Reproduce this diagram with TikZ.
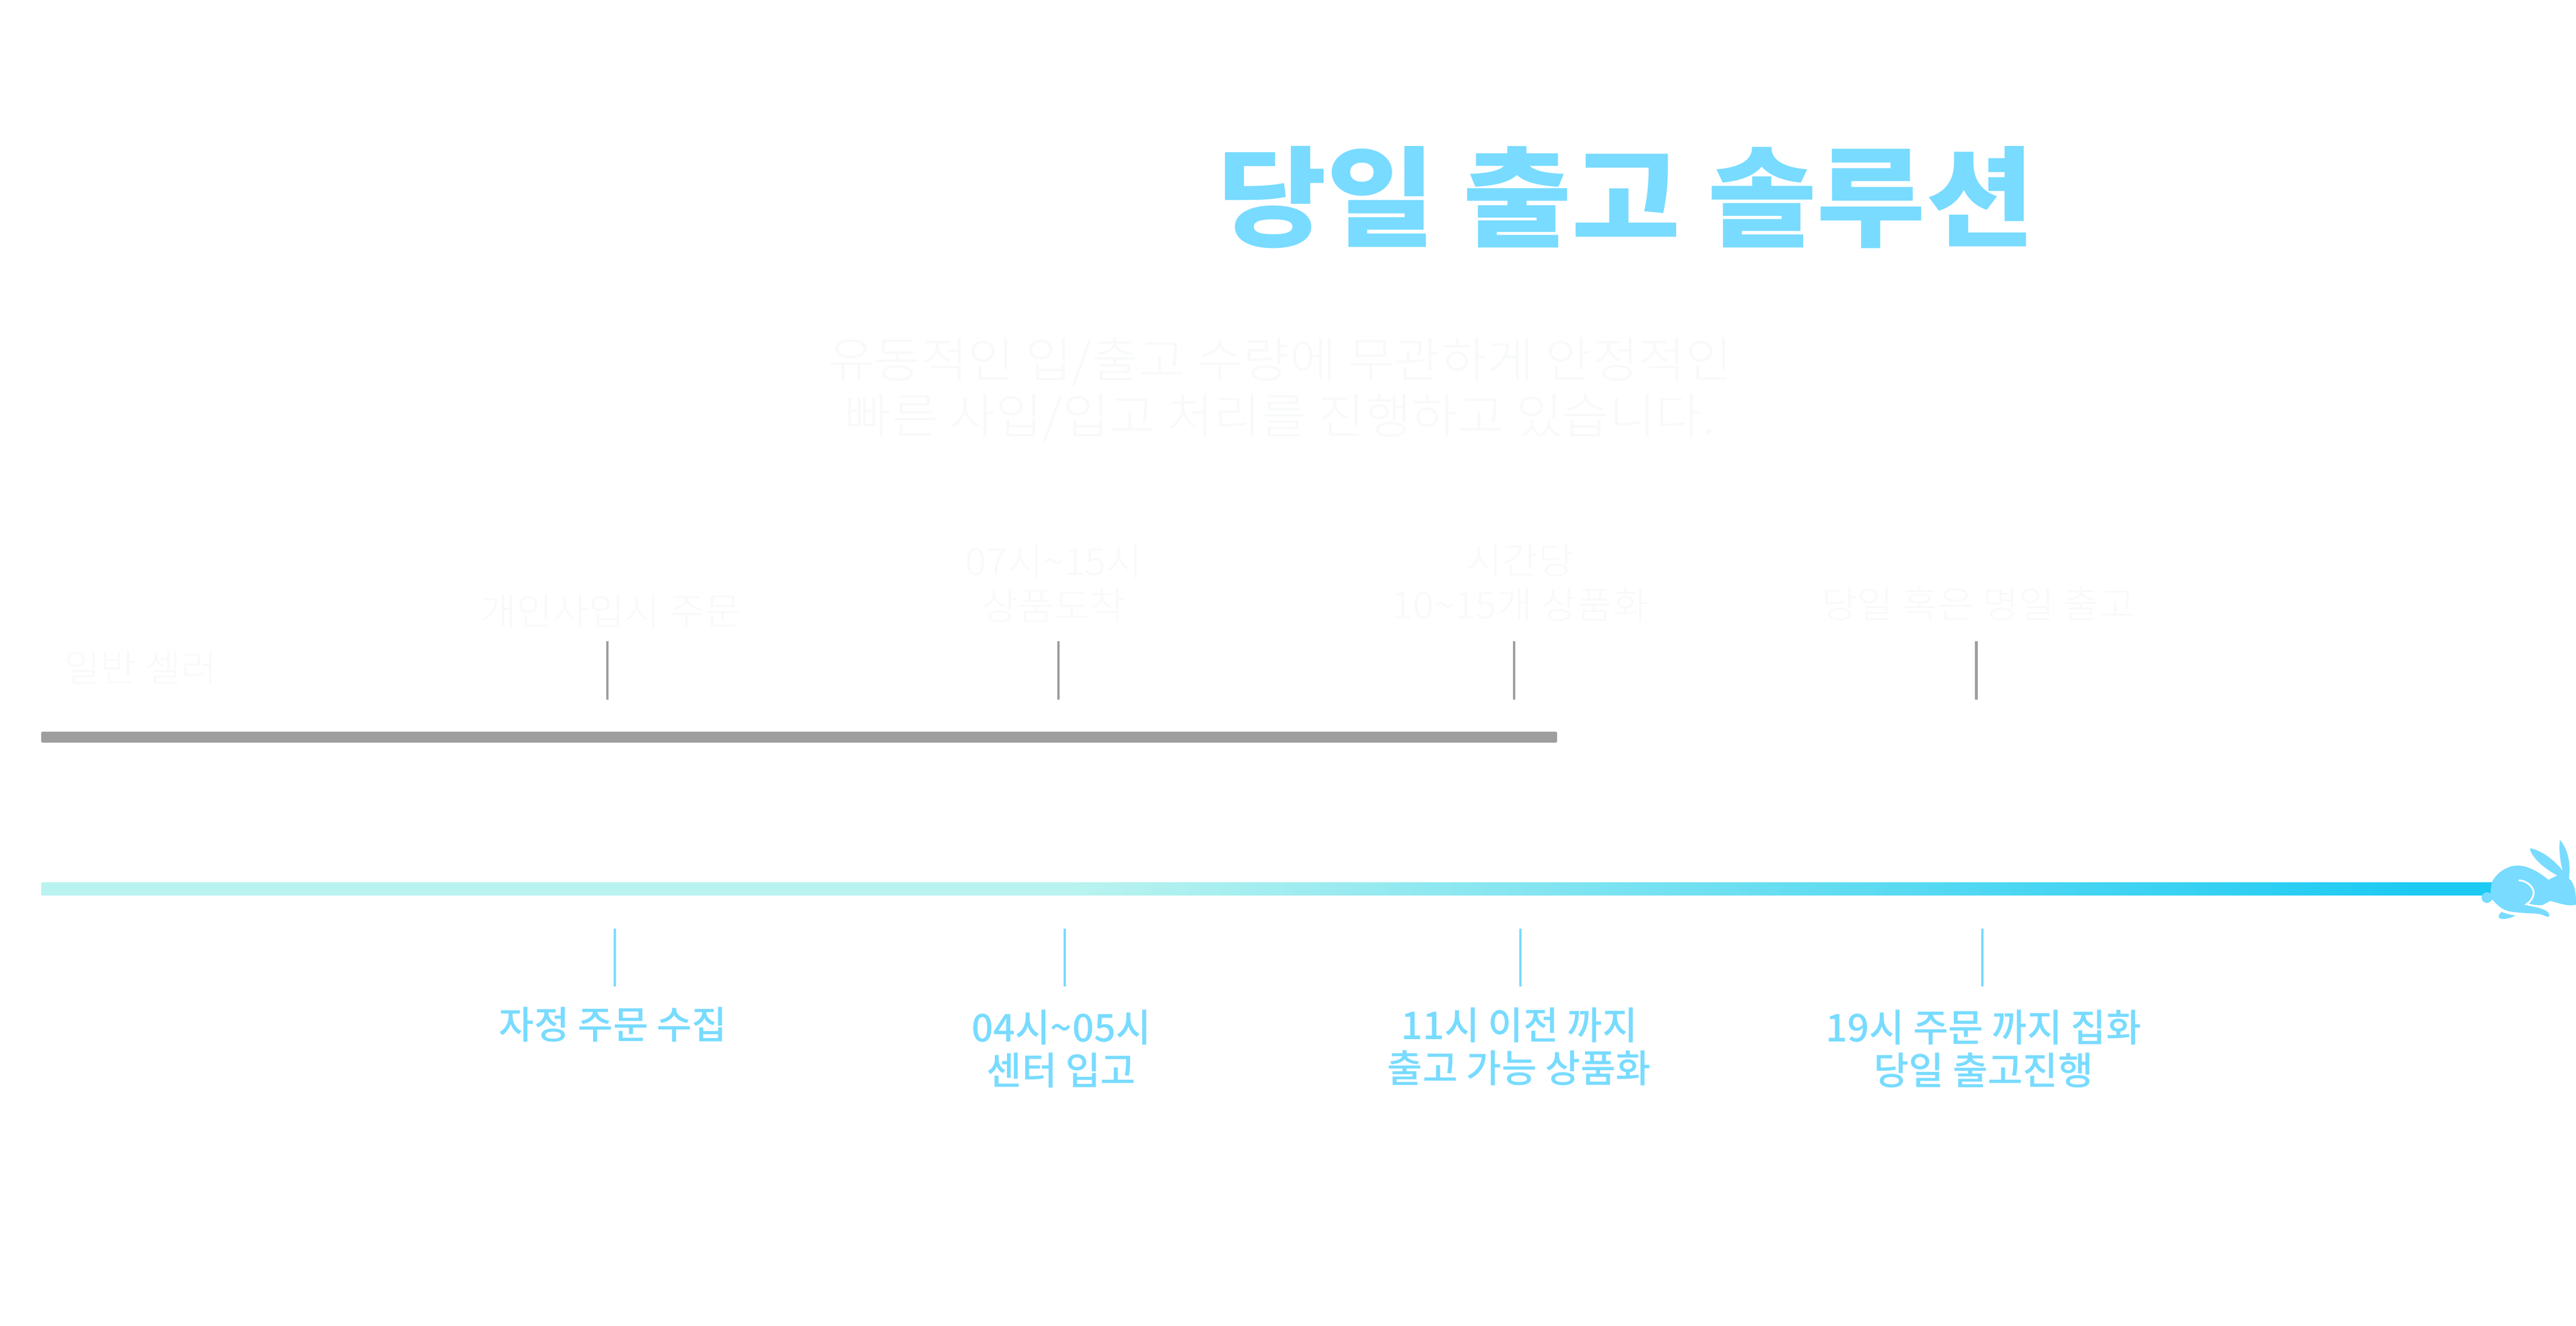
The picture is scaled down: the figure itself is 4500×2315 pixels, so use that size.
\documentclass[tikz,border=0pt]{standalone}
\usepackage{fontspec}
\newfontfamily\krblack[FakeStretch=1.09]{Noto Sans CJK KR Black}
\newfontfamily\krlight[FakeStretch=1.05]{Noto Sans CJK KR Light}
\newfontfamily\krmedium{Noto Sans CJK KR Medium}
\definecolor{skyText}{HTML}{78DBFF}
\definecolor{faintText}{HTML}{F8F9FA}
\definecolor{barGray}{HTML}{9E9E9E}
\definecolor{barStart}{HTML}{B9F3EF}
\definecolor{barEnd}{HTML}{1CCAF3}
\pgfdeclarehorizontalshading{barShade}{100bp}{color(0bp)=(barStart); color(46bp)=(barStart); color(73.5bp)=(barEnd); color(100bp)=(barEnd)}
\tikzset{
  titlenode/.style={inner sep=0mm, text=skyText, font=\krblack\fontsize{108}{108}\selectfont},
  subnode/.style={inner sep=0mm, align=center, text=faintText, font=\krlight\fontsize{48}{56}\selectfont},
  upnode/.style={inner sep=0mm, align=center, text=faintText, font=\krlight\fontsize{37}{44}\selectfont},
  lownode/.style={inner sep=0mm, align=center, text=skyText, font=\krmedium\fontsize{38}{43}\selectfont},
  graytick/.style={draw=barGray, line width=2.8pt},
  skytick/.style={draw=skyText, line width=2pt},
  gapline/.style={draw=white, line width=1.8pt, line cap=round},
}

\begin{document}
\begin{tikzpicture}[x=0.2mm, y=-0.2mm]
\useasboundingbox[fill=white] (0,0) rectangle (4500,2315);

%title and sub title
\node[titlenode] (title) at (2841,345) {당일 출고 솔루션};
\node[subnode] (subTitle) at (2236,681) {유동적인 입/출고 수량에 무관하게 안정적인\\빠른 사입/입고 처리를 진행하고 있습니다.};

%draw the two bars
\fill[barGray, rounded corners=1] (72,1278) rectangle (2720,1297);
\shade[shading=barShade, rounded corners=1] (72,1541) rectangle (4360,1564);

%upper labels
\node[upnode] (seller) at (246,1166) {일반 셀러};
\foreach \n/\xTick/\xText/\yText/\Text in {%
    a/1061/1067/1067/{개인사입시 주문},
    b/1849/1841/1019/{07시\textasciitilde15시\\상품도착},
    c/2645/2656/1017/{시간당\\10\textasciitilde15개 상품화},
    d/3452/3456/1055/{당일 혹은 명일 출고}%
    }{
  \node[upnode] (up\n) at (\xText,\yText) {\Text};
  \coordinate (upTop\n) at (\xTick,1120);
  \coordinate (upEnd\n) at (\xTick,1222);
  \draw[graytick] (upTop\n) -- (upEnd\n);
}

%lower labels
\foreach \n/\xTick/\xText/\yText/\Text in {%
    a/1074/1071/1790/{자정 주문 수집},
    b/1860/1854/1832/{04시\textasciitilde05시\\센터 입고},
    c/2656/2654/1828/{11시 이전 까지\\출고 가능 상품화},
    d/3463/3465/1832/{19시 주문 까지 집화\\당일 출고진행}%
    }{
  \node[lownode] (low\n) at (\xText,\yText) {\Text};
  \coordinate (lowTop\n) at (\xTick,1622);
  \coordinate (lowEnd\n) at (\xTick,1723);
  \draw[skytick] (lowTop\n) -- (lowEnd\n);
}

%rabbit
\begin{scope}[shift={(4250,1440)}, x=0.0667mm, y=-0.0667mm]
  \fill[skyText] (283,383) circle [radius=1.87mm];
  \fill[skyText] (605,290) .. controls (545,240) and (490,215) .. (440,215)
    .. controls (380,218) and (330,260) .. (310,300)
    .. controls (300,330) and (303,370) .. (303,390)
    -- (313,395) .. controls (340,425) and (360,445) .. (400,455)
    .. controls (470,468) and (540,462) .. (570,472)
    .. controls (590,480) and (605,488) .. (610,480)
    .. controls (612,465) and (600,455) .. (585,448)
    .. controls (560,437) and (520,425) .. (500,420)
    -- (572,423) -- (615,400) .. controls (660,412) and (710,432) .. (750,420)
    .. controls (750,340) and (735,300) .. (712,283)
    .. controls (722,220) and (715,140) .. (665,80)
    .. controls (660,130) and (665,190) .. (680,243)
    .. controls (640,190) and (570,135) .. (508,124)
    .. controls (510,160) and (570,225) .. (652,267) -- cycle;
  \fill[skyText] (360,458) .. controls (340,475) and (335,495) .. (370,495)
    .. controls (400,493) and (420,485) .. (432,477)
    .. controls (400,472) and (375,465) .. (360,458) -- cycle;
  \draw[gapline] (452,293) .. controls (500,295) and (530,335) .. (528,360)
    .. controls (525,385) and (510,405) .. (490,418) -- (560,432);
\end{scope}
\end{tikzpicture}
\end{document}
